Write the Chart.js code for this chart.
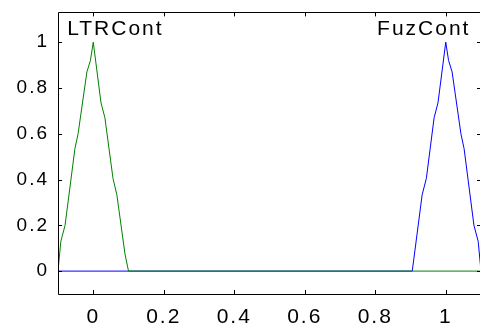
<!DOCTYPE html>
<html>
<head>
<meta charset="utf-8">
<script src="https://cdn.jsdelivr.net/npm/chart.js@4/dist/chart.umd.min.js"></script>
<style>
  html, body { margin: 0; padding: 0; overflow: hidden; background: #fff; }
  canvas { display: block; }
</style>
</head>
<body>
<canvas id="mfChart" width="484" height="327"></canvas>
<script>
// membership functions
var ltrX = [-0.1, -0.092, -0.08, -0.052, -0.043, -0.018, -0.008, 0, 0.022, 0.033, 0.056, 0.067, 0.09, 0.1, 1.1];
var ltrY = [0, 0.13, 0.2, 0.535, 0.6, 0.87, 0.92, 1, 0.735, 0.67, 0.405, 0.333, 0.075, 0, 0];
var fuzX = [-0.1, 0.905, 0.933, 0.945, 0.967, 0.978, 1, 1.008, 1.018, 1.043, 1.052, 1.08, 1.092, 1.1];
var fuzY = [0, 0, 0.333, 0.405, 0.67, 0.735, 1, 0.92, 0.87, 0.6, 0.535, 0.2, 0.13, 0];
var mfNames = ['LTRCont', 'FuzCont'];
var xTicks = [0, 0.2, 0.4, 0.6, 0.8, 1];
var yTicks = [0, 0.2, 0.4, 0.6, 0.8, 1];

function toPoints(xs, ys) {
    return xs.map(function (x, i) { return { x: x, y: ys[i] }; });
}

var boxPlugin = {
    id: 'box',
    beforeDraw: function (chart) {
        chart.ctx.letterSpacing = '2px';
    },
    afterDraw: function (chart) {
        var ctx = chart.ctx, a = chart.chartArea;
        var x = chart.scales.x, y = chart.scales.y;
        ctx.save();
        ctx.strokeStyle = '#000';
        ctx.lineWidth = 1;
        ctx.beginPath();
        ctx.rect(Math.round(a.left) + 0.5, Math.round(a.top) + 0.5,
                 Math.round(a.right - a.left), Math.round(a.bottom - a.top));
        xTicks.forEach(function (v) {
            var px = Math.round(x.getPixelForValue(v)) + 0.5;
            ctx.moveTo(px, a.bottom); ctx.lineTo(px, a.bottom - 4);
            ctx.moveTo(px, a.top); ctx.lineTo(px, a.top + 4);
        });
        yTicks.forEach(function (v) {
            var py = Math.round(y.getPixelForValue(v)) + 0.5;
            ctx.moveTo(a.left, py); ctx.lineTo(a.left + 4, py);
            ctx.moveTo(a.right, py); ctx.lineTo(a.right - 4, py);
        });
        ctx.stroke();

        // mf names
        ctx.fillStyle = '#000';
        ctx.font = '21px "Liberation Sans", Arial, sans-serif';
        ctx.letterSpacing = '2px';
        ctx.textBaseline = 'alphabetic';
        ctx.textAlign = 'left';
        ctx.fillText(mfNames[0], x.getPixelForValue(-0.074), y.getPixelForValue(1.03));
        ctx.textAlign = 'right';
        ctx.fillText(mfNames[1], x.getPixelForValue(1.07), y.getPixelForValue(1.03));
        ctx.restore();
    }
};

var ctx = document.getElementById('mfChart').getContext('2d');
var mfChart = new Chart(ctx, {
    type: 'scatter',
    data: {
        datasets: [{
            label: mfNames[0],
            data: toPoints(ltrX, ltrY),
            showLine: true,
            borderColor: '#008000',
            borderWidth: 1,
            pointRadius: 0,
            tension: 0
        }, {
            label: mfNames[1],
            data: toPoints(fuzX, fuzY),
            showLine: true,
            borderColor: '#0000ff',
            borderWidth: 1,
            pointRadius: 0,
            tension: 0
        }]
    },
    options: {
        responsive: false,
        animation: false,
        layout: { padding: { top: 8, right: 3, left: 0, bottom: 0 } },
        plugins: {
            legend: { display: false },
            tooltip: { enabled: false }
        },
        scales: {
            x: {
                type: 'linear',
                min: -0.1,
                max: 1.1,
                grid: { display: false },
                border: { display: false },
                afterBuildTicks: function (scale) {
                    scale.ticks = xTicks.map(function (v) { return { value: v }; });
                },
                afterFit: function (scale) { scale.height = 33; },
                ticks: {
                    color: '#000',
                    padding: 3,
                    maxRotation: 0,
                    font: { family: '"Liberation Sans", Arial, sans-serif', size: 21 },
                    callback: function (v) { return String(v); }
                }
            },
            y: {
                type: 'linear',
                min: -0.1,
                max: 1.13,
                grid: { display: false },
                border: { display: false },
                afterBuildTicks: function (scale) {
                    scale.ticks = yTicks.map(function (v) { return { value: v }; });
                },
                afterFit: function (scale) { scale.width = 58; },
                ticks: {
                    color: '#000',
                    padding: 1,
                    font: { family: '"Liberation Sans", Arial, sans-serif', size: 19 },
                    callback: function (v) { return String(v); }
                }
            }
        }
    },
    plugins: [boxPlugin]
});
</script>
</body>
</html>
